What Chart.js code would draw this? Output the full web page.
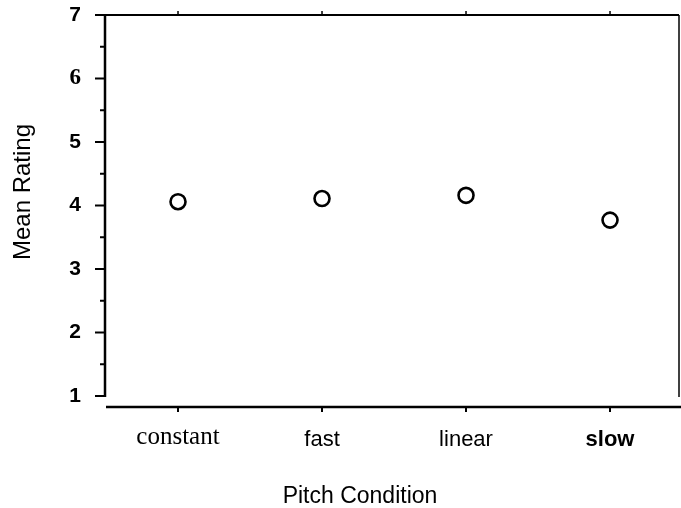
<!DOCTYPE html>
<html>
<head>
<meta charset="utf-8">
<script src="https://cdn.jsdelivr.net/npm/chart.js@4/dist/chart.umd.min.js"></script>
<style>
  html, body { margin: 0; padding: 0; background: #fff; }
  #wrap { width: 681px; height: 508px; }
</style>
</head>
<body>
<div id="wrap"><canvas id="ratingChart"></canvas></div>
<script>
const conditions = ["constant", "fast", "linear", "slow"];
const meanRatings = [4.06, 4.11, 4.16, 3.77];
const ratingTicks = [1, 2, 3, 4, 5, 6, 7];

const points = conditions.map((c, i) => ({ x: i, y: meanRatings[i] }));

function strokeLine(ctx, x1, y1, x2, y2, w) {
  ctx.lineWidth = w;
  ctx.beginPath();
  ctx.moveTo(x1, y1);
  ctx.lineTo(x2, y2);
  ctx.stroke();
}

// the tick padding would otherwise be added to the chart margins
function noScalePadding(scale) {
  scale.paddingTop = 0;
  scale.paddingBottom = 0;
  scale.paddingLeft = 0;
  scale.paddingRight = 0;
}

// axes, frame and tick marks (drawn by hand, the scan has an open box)
const axisLines = {
  id: "axisLines",
  beforeDatasetsDraw(chart) {
    const { ctx, chartArea, scales } = chart;
    const xs = scales.x, ys = scales.y;
    const yTop = ys.getPixelForValue(ratingTicks[ratingTicks.length - 1]);
    const yBot = ys.getPixelForValue(ratingTicks[0]);
    const xAxisY = yBot + 11;
    ctx.save();
    ctx.strokeStyle = "#000";

    // left axis + ticks
    strokeLine(ctx, chartArea.left, yTop - 1, chartArea.left, yBot + 1, 2.5);
    ratingTicks.forEach((v) => {
      const py = ys.getPixelForValue(v);
      strokeLine(ctx, chartArea.left - 10, py, chartArea.left, py, 2);
      if (v < ratingTicks[ratingTicks.length - 1]) {
        const my = ys.getPixelForValue(v + 0.5);
        strokeLine(ctx, chartArea.left - 5, my, chartArea.left, my, 2);
      }
    });

    // top and right frame
    strokeLine(ctx, chartArea.left, yTop, chartArea.right, yTop, 2);
    strokeLine(ctx, chartArea.right, yTop, chartArea.right, yBot + 1, 1.5);

    // bottom axis, detached from the left one
    strokeLine(ctx, chartArea.left + 1, xAxisY, chart.width, xAxisY, 2.5);
    conditions.forEach((c, i) => {
      const px = xs.getPixelForValue(i);
      strokeLine(ctx, px, xAxisY, px, xAxisY + 5, 2);
      strokeLine(ctx, px, yTop, px, yTop - 4, 1.5);
    });
    ctx.restore();
  },
  afterDraw(chart) {
    const { ctx } = chart;
    ctx.save();
    ctx.fillStyle = "#000";
    ctx.textAlign = "center";
    ctx.textBaseline = "alphabetic";
    ctx.font = "23px 'Liberation Sans', Arial, sans-serif";
    ctx.fillText("Pitch Condition", 360, 503);

    ctx.translate(30, 192);
    ctx.rotate(-Math.PI / 2);
    ctx.font = "24px 'Liberation Sans', Arial, sans-serif";
    ctx.fillText("Mean Rating", 0, 0);
    ctx.restore();
  },
};

const ctx = document.getElementById("ratingChart").getContext("2d");
new Chart(ctx, {
  type: "scatter",
  data: {
    datasets: [
      {
        label: "Mean Rating",
        data: points,
        pointStyle: "circle",
        pointRadius: 7.5,
        pointHoverRadius: 7.5,
        pointBorderWidth: 2.6,
        pointBackgroundColor: "#fff",
        pointBorderColor: "#000",
        showLine: false,
      },
    ],
  },
  options: {
    responsive: true,
    maintainAspectRatio: false,
    animation: false,
    layout: {
      autoPadding: false,
      padding: { top: 15, right: 2, left: 0, bottom: 0 },
    },
    plugins: {
      legend: { display: false },
      tooltip: { enabled: false },
    },
    scales: {
      x: {
        type: "linear",
        bounds: "data",
        min: -0.507,
        max: 3.479,
        grid: { display: false, drawTicks: false },
        border: { display: false },
        afterBuildTicks: (scale) => {
          scale.ticks = conditions.map((c, i) => ({ value: i }));
        },
        afterFit: (scale) => {
          scale.height = 112;
          noScalePadding(scale);
        },
        ticks: {
          autoSkip: false,
          maxRotation: 0,
          padding: 31,
          color: "#000",
          callback: (value) => conditions[value],
          font: (context) => {
            const i = context.index;
            if (i === 0) {
              return { family: "'Liberation Serif', 'Times New Roman', serif", size: 25, lineHeight: 0.87 };
            }
            if (i === 3) {
              return { family: "'Liberation Sans', Arial, sans-serif", size: 22, weight: "bold" };
            }
            return { family: "'Liberation Sans', Arial, sans-serif", size: 22, weight: "normal" };
          },
        },
      },
      y: {
        min: ratingTicks[0],
        max: ratingTicks[ratingTicks.length - 1],
        grid: { display: false, drawTicks: false },
        border: { display: false },
        afterFit: (scale) => {
          scale.width = 105;
          noScalePadding(scale);
        },
        ticks: {
          stepSize: 1,
          padding: 24,
          color: "#000",
          font: (context) => {
            if (context.tick && context.tick.value === 6) {
              return { family: "'Liberation Serif', 'Times New Roman', serif", size: 23, weight: "bold" };
            }
            return { family: "'Liberation Sans', Arial, sans-serif", size: 21, weight: "bold" };
          },
        },
      },
    },
  },
  plugins: [axisLines],
});
</script>
</body>
</html>
